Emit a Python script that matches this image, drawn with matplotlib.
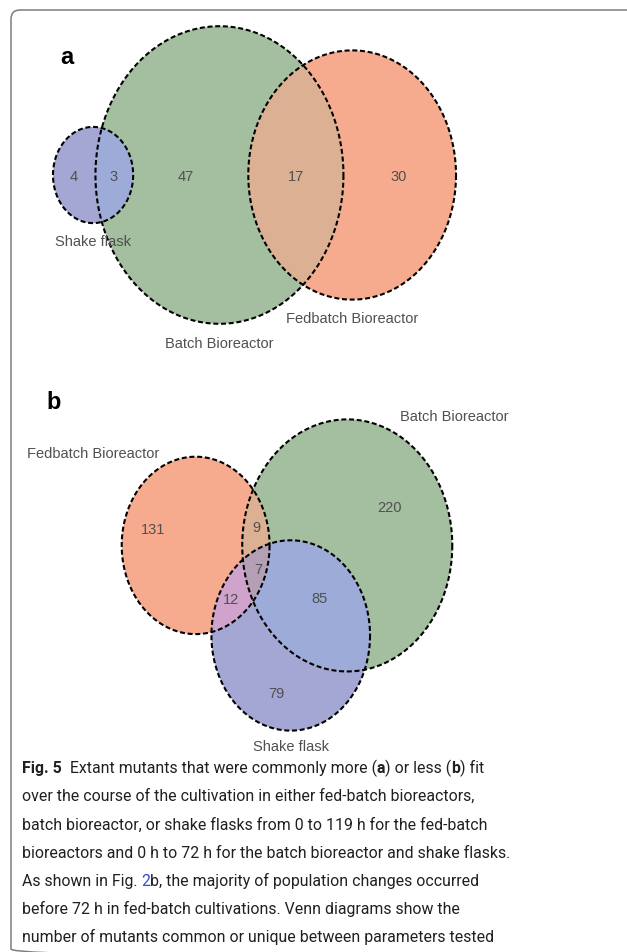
import matplotlib
matplotlib.use('Agg')
import matplotlib.pyplot as plt
import matplotlib.patches as patches
import numpy as np

# Venn region counts, in the order Abc, aBc, ABc, abC, AbC, aBC, ABC
sets_a = ['Shake flask', 'Batch Bioreactor', 'Fedbatch Bioreactor']
counts_a = [4, 47, 3, 30, 0, 17, 0]

sets_b = ['Fedbatch Bioreactor', 'Batch Bioreactor', 'Shake flask']
counts_b = [131, 220, 9, 79, 12, 85, 7]

MASKS = [(1, 0, 0), (0, 1, 0), (1, 1, 0), (0, 0, 1), (1, 0, 1), (0, 1, 1), (1, 1, 1)]

# Fill colours per set, per pair and for the triple overlap
set_colors = {'Fedbatch Bioreactor': '#f6aa8e', 'Batch Bioreactor': '#a3bf9f', 'Shake flask': '#a4a6d3'}
pair_colors = {
    frozenset(['Fedbatch Bioreactor', 'Batch Bioreactor']): '#dcb093',
    frozenset(['Fedbatch Bioreactor', 'Shake flask']): '#d0a3cd',
    frozenset(['Batch Bioreactor', 'Shake flask']): '#9cabd8',
}
triple_color = '#b59fb5'

caption_lines = [
    [('Fig. 5  ', 'bold', None), ('Extant mutants that were commonly more (', 'normal', None),
     ('a', 'bold', None), (') or less (', 'normal', None), ('b', 'bold', None), (') fit', 'normal', None)],
    [('over the course of the cultivation in either fed-batch bioreactors,', 'normal', None)],
    [('batch bioreactor, or shake flasks from 0 to 119 h for the fed-batch', 'normal', None)],
    [('bioreactors and 0 h to 72 h for the batch bioreactor and shake flasks.', 'normal', None)],
    [('As shown in Fig. ', 'normal', None), ('2', 'normal', '#2f4fd0'),
     ('b, the majority of population changes occurred', 'normal', None)],
    [('before 72 h in fed-batch cultivations. Venn diagrams show the', 'normal', None)],
    [('number of mutants common or unique between parameters tested', 'normal', None)],
]

TEXT_GRAY = '#505050'
VENN_FONT = 'Liberation Sans'
CAPTION_FONT = 'Roboto'


def lens_area(r1, r2, d):
    if d >= r1 + r2:
        return 0.0
    if d <= abs(r1 - r2):
        return np.pi * min(r1, r2) ** 2
    a1 = r1 ** 2 * np.arccos((d * d + r1 * r1 - r2 * r2) / (2 * d * r1))
    a2 = r2 ** 2 * np.arccos((d * d + r2 * r2 - r1 * r1) / (2 * d * r2))
    a3 = 0.5 * np.sqrt((-d + r1 + r2) * (d + r1 - r2) * (d - r1 + r2) * (d + r1 + r2))
    return a1 + a2 - a3


def solve_distance(r1, r2, overlap):
    lo, hi = abs(r1 - r2), r1 + r2
    for _ in range(80):
        mid = (lo + hi) / 2
        if lens_area(r1, r2, mid) > overlap:
            lo = mid
        else:
            hi = mid
    return (lo + hi) / 2


def venn_layout(counts):
    sizes = [sum(c for c, m in zip(counts, MASKS) if m[i]) for i in range(3)]
    radii = np.sqrt(np.array(sizes, dtype=float) / np.pi)

    def overlap(i, j):
        return sum(c for c, m in zip(counts, MASKS) if m[i] and m[j])

    d01 = solve_distance(radii[0], radii[1], overlap(0, 1))
    d12 = solve_distance(radii[1], radii[2], overlap(1, 2))
    if overlap(0, 2) == 0:
        # disjoint pair ends up on opposite sides of the middle set
        d02 = d01 + d12
    else:
        d02 = solve_distance(radii[0], radii[2], overlap(0, 2))
    x2 = (d01 ** 2 + d02 ** 2 - d12 ** 2) / (2 * d01)
    y2 = np.sqrt(max(d02 ** 2 - x2 ** 2, 0.0))
    centers = np.array([[0.0, 0.0], [d01, 0.0], [x2, y2]])
    return centers, radii


def signed_area(poly):
    x, y = poly[:, 0], poly[:, 1]
    return 0.5 * np.sum(x * np.roll(y, -1) - np.roll(x, -1) * y)


def line_cross(p, q, a, b):
    d1 = q - p
    d2 = b - a
    den = d1[0] * d2[1] - d1[1] * d2[0]
    t = ((a[0] - p[0]) * d2[1] - (a[1] - p[1]) * d2[0]) / den
    return p + t * d1


def clip_polygon(subject, clipper):
    # Sutherland-Hodgman, both polygons convex
    sign = np.sign(signed_area(clipper))
    out = list(subject)
    n = len(clipper)
    for k in range(n):
        if not out:
            break
        a, b = clipper[k], clipper[(k + 1) % n]
        inside = lambda p: sign * ((b[0] - a[0]) * (p[1] - a[1]) - (b[1] - a[1]) * (p[0] - a[0])) >= 0
        inp, out = out, []
        s = inp[-1]
        for e in inp:
            if inside(e):
                if not inside(s):
                    out.append(line_cross(s, e, a, b))
                out.append(e)
            elif inside(s):
                out.append(line_cross(s, e, a, b))
            s = e
    return np.array(out)


def draw_venn(ax, names, counts, scale, center_px, stretch, number_pos, name_pos):
    centers, radii = venn_layout(counts)
    lo = (centers - radii[:, None]).min(axis=0)
    hi = (centers + radii[:, None]).max(axis=0)
    mid = (lo + hi) / 2

    theta = np.linspace(0, 2 * np.pi, 241)[:-1]
    shapes = []
    for c, r in zip(centers, radii):
        pts = np.column_stack([c[0] + r * np.cos(theta), c[1] + r * np.sin(theta)])
        px = np.column_stack([center_px[0] + scale * (pts[:, 0] - mid[0]),
                              center_px[1] + stretch * scale * (pts[:, 1] - mid[1])])
        shapes.append(px)

    for name, poly in zip(names, shapes):
        ax.add_patch(patches.Polygon(poly, closed=True, facecolor=set_colors[name], edgecolor='none', zorder=1))
    for i, j in [(0, 1), (0, 2), (1, 2)]:
        inter = clip_polygon(shapes[i], shapes[j])
        if len(inter) > 2:
            ax.add_patch(patches.Polygon(inter, closed=True, edgecolor='none', zorder=2,
                                         facecolor=pair_colors[frozenset([names[i], names[j]])]))
    inter = clip_polygon(clip_polygon(shapes[0], shapes[1]), shapes[2]) if True else []
    if len(inter) > 2:
        ax.add_patch(patches.Polygon(inter, closed=True, facecolor=triple_color, edgecolor='none', zorder=3))
    for poly in shapes:
        ax.add_patch(patches.Polygon(poly, closed=True, fill=False, edgecolor='black',
                                     lw=1.5, linestyle=(0, (2.4, 1.3)), zorder=4))

    for value, pos in zip(counts, number_pos):
        if value == 0:
            continue
        ax.text(pos[0], pos[1], str(value), ha='center', va='baseline', fontsize=10.5,
                color=TEXT_GRAY, family=VENN_FONT, zorder=5)
    for name, pos in zip(names, name_pos):
        ax.text(pos[0], pos[1], name, ha='center', va='baseline', fontsize=10.5,
                color=TEXT_GRAY, family=VENN_FONT, zorder=5)


fig = plt.figure(figsize=(6.27, 9.53), dpi=100)
ax = fig.add_axes((0, 0, 1, 1))
ax.set_xlim(0, 627)
ax.set_ylim(953, 0)
ax.axis('off')

# Frame around the figure
ax.add_patch(patches.FancyBboxPatch((11, 11), 640, 948, boxstyle='round,pad=0,rounding_size=9',
                                    facecolor='none', edgecolor='#7d7d7d', lw=1.1, zorder=0))

# Panel a
ax.text(67, 64, 'a', fontsize=17, fontweight='bold', family=VENN_FONT, ha='center', va='baseline')
draw_venn(ax, sets_a, counts_a, scale=26.85, center_px=(254.5, 176), stretch=1.2,
          number_pos=[(74, 181), (186, 181), (114, 181), (399, 181), (0, 0), (296, 181), (0, 0)],
          name_pos=[(93, 246), (219, 348), (352, 323)])

# Panel b
ax.text(54, 409, 'b', fontsize=17, fontweight='bold', family=VENN_FONT, ha='center', va='baseline')
draw_venn(ax, sets_b, counts_b, scale=10.39, center_px=(287, 576), stretch=1.2,
          number_pos=[(153, 534), (389, 512), (256, 532), (276, 698), (231, 604), (320, 603), (258, 574)],
          name_pos=[(93, 458), (454, 421), (291, 751)])

# Caption, set run by run so bold and coloured words sit inline
renderer = fig.canvas.get_renderer()


def advance(s, size, weight):
    t1 = ax.text(0, 0, 'x' + s + 'x', fontsize=size, fontweight=weight, family=CAPTION_FONT)
    t2 = ax.text(0, 0, 'xx', fontsize=size, fontweight=weight, family=CAPTION_FONT)
    w = t1.get_window_extent(renderer).width - t2.get_window_extent(renderer).width
    t1.remove()
    t2.remove()
    return w


ref_line = caption_lines[3][0][0]
cap_size = 12 * 485 / advance(ref_line, 12, 'normal')

y = 773
for line in caption_lines:
    x = 22
    for text, weight, color in line:
        ax.text(x, y, text, fontsize=cap_size, fontweight=weight, family=CAPTION_FONT,
                color=color or '#231f20', ha='left', va='baseline')
        x += advance(text, cap_size, weight)
    y += 28.2

fig.savefig('out.png', dpi=100, facecolor='white')
